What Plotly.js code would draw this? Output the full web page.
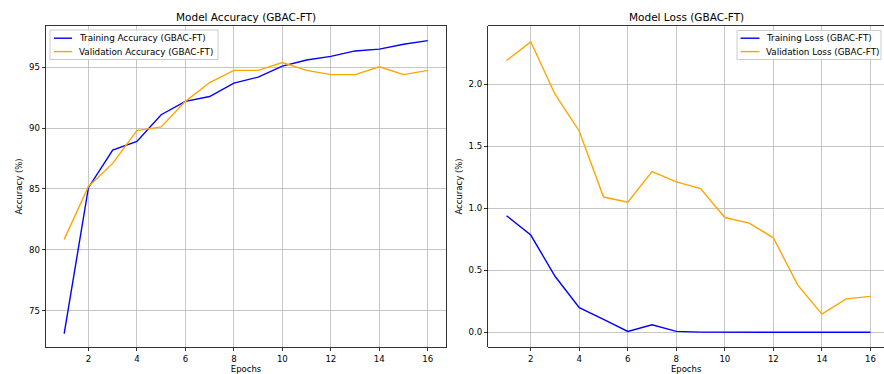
<!DOCTYPE html>
<html>
<head>
<meta charset="utf-8">
<script src="https://cdn.plot.ly/plotly-3.0.1.min.js"></script>
<style>
html,body{margin:0;padding:0;background:#fff;}
#chart{width:884px;height:374px;}
</style>
</head>
<body>
<div id="chart"></div>
<script>
const epochs = [1,2,3,4,5,6,7,8,9,10,11,12,13,14,15,16];
const trainAcc = [73.1,85.1,88.2,88.9,91.1,92.2,92.6,93.7,94.2,95.1,95.6,95.9,96.35,96.5,96.9,97.2];
const valAcc = [80.85,85.2,87.1,89.8,90.1,92.2,93.75,94.75,94.75,95.4,94.75,94.4,94.4,95.05,94.4,94.75];
const trainLoss = [0.94,0.784,0.452,0.20,0.104,0.008,0.062,0.008,0.002,0.002,0.001,0.001,0.001,0.001,0.001,0.001];
const valLoss = [2.19,2.34,1.918,1.62,1.09,1.049,1.295,1.212,1.158,0.925,0.88,0.762,0.383,0.147,0.27,0.29];
const xTickVals = [2,4,6,8,10,12,14,16];
const accNames = ['Training Accuracy (GBAC-FT)', 'Validation Accuracy (GBAC-FT)'];
const lossNames = ['Training Loss (GBAC-FT)', 'Validation Loss (GBAC-FT)'];

const W = 884, H = 374;
const FONT = 'DejaVu Sans, sans-serif';
const tickFont = {family: FONT, size: 8.6, color: '#000'};
const labelFont = {family: FONT, size: 8.5, color: '#000'};
const blue = '#0000ff', orange = '#ffa500';
const colors = [blue, orange];

const traces = [
  {x: epochs, y: trainAcc, name: accNames[0], mode: 'lines', line: {color: blue, width: 1.4}, xaxis: 'x', yaxis: 'y'},
  {x: epochs, y: valAcc, name: accNames[1], mode: 'lines', line: {color: orange, width: 1.4}, xaxis: 'x', yaxis: 'y'},
  {x: epochs, y: trainLoss, name: lossNames[0], mode: 'lines', line: {color: blue, width: 1.4}, xaxis: 'x2', yaxis: 'y2'},
  {x: epochs, y: valLoss, name: lossNames[1], mode: 'lines', line: {color: orange, width: 1.4}, xaxis: 'x2', yaxis: 'y2'}
];

function xax(domain, anchor) {
  return {
    domain: domain, anchor: anchor, range: [0.25, 16.75],
    tickvals: xTickVals, ticks: 'outside', ticklen: 3.5, tickwidth: 0.8, tickcolor: '#000',
    showline: true, linecolor: '#000', linewidth: 0.8, mirror: true,
    showgrid: true, gridcolor: '#b8b8b8', gridwidth: 0.8, zeroline: false,
    tickfont: tickFont,
    title: {text: 'Epochs', font: labelFont, standoff: 3}
  };
}

// custom matplotlib-style legends (pixel positions converted to paper coords)
const px = v => v / W, py = v => (H - v) / H;
const shapes = [], annotations = [];
function addLegend(box, lineX0, lineX1, textX, rowsY, names) {
  shapes.push({type: 'rect', xref: 'paper', yref: 'paper', x0: px(box[0]), x1: px(box[1]), y0: py(box[3]), y1: py(box[2]),
    fillcolor: 'rgba(255,255,255,0.8)', line: {color: '#cccccc', width: 1}, layer: 'above'});
  names.forEach((n, i) => {
    shapes.push({type: 'line', xref: 'paper', yref: 'paper', x0: px(lineX0), x1: px(lineX1), y0: py(rowsY[i]), y1: py(rowsY[i]),
      line: {color: colors[i], width: 1.4}, layer: 'above'});
    annotations.push({text: n, xref: 'paper', yref: 'paper', x: px(textX), y: py(rowsY[i]), xanchor: 'left', yanchor: 'middle',
      showarrow: false, font: {family: FONT, size: 8.8, color: '#000'}, borderpad: 0});
  });
}
addLegend([50, 218, 30, 59.5], 54, 72, 77.5, [38.2, 51.6], accNames);
addLegend([737, 881, 30.5, 59.5], 740.5, 759.5, 764.5, [38.2, 51.6], lossNames);

annotations.push(
  {text: 'Model Accuracy (GBAC-FT)', x: px(246), y: py(17), xref: 'paper', yref: 'paper', showarrow: false, xanchor: 'center', yanchor: 'middle', font: {family: FONT, size: 10.5, color: '#000'}},
  {text: 'Model Loss (GBAC-FT)', x: px(686), y: py(17), xref: 'paper', yref: 'paper', showarrow: false, xanchor: 'center', yanchor: 'middle', font: {family: FONT, size: 10.5, color: '#000'}}
);

const layout = {
  width: W, height: H,
  margin: {l: 0, r: 0, t: 0, b: 0},
  paper_bgcolor: '#fff', plot_bgcolor: '#fff',
  showlegend: false,
  xaxis: xax([46/W, 446/W], 'y'),
  yaxis: {
    domain: [27/H, 348/H], anchor: 'x', range: [72.0, 98.4],
    tickvals: [75,80,85,90,95], ticks: 'outside', ticklen: 3.5, tickwidth: 0.8, tickcolor: '#000',
    showline: true, linecolor: '#000', linewidth: 0.8, mirror: true,
    showgrid: true, gridcolor: '#b8b8b8', gridwidth: 0.8, zeroline: false,
    tickfont: tickFont,
    title: {text: 'Accuracy (%)', font: labelFont, standoff: 4}
  },
  xaxis2: Object.assign(xax([488.3/W, 1.0], 'y2'), {range: [0.25, 16.56]}),
  yaxis2: {
    domain: [27/H, 348/H], anchor: 'x2', range: [-0.1175, 2.4675],
    tickvals: [0, 0.5, 1.0, 1.5, 2.0], tickformat: '.1f', ticks: 'outside', ticklen: 3.5, tickwidth: 0.8, tickcolor: '#000',
    showline: true, linecolor: '#000', linewidth: 0.8, mirror: false,
    showgrid: true, gridcolor: '#b8b8b8', gridwidth: 0.8, zeroline: false,
    tickfont: tickFont,
    title: {text: 'Accuracy (%)', font: labelFont, standoff: 4}
  },
  shapes: shapes,
  annotations: annotations
};

Plotly.newPlot('chart', traces, layout, {displayModeBar: false, staticPlot: true});
</script>
</body>
</html>
